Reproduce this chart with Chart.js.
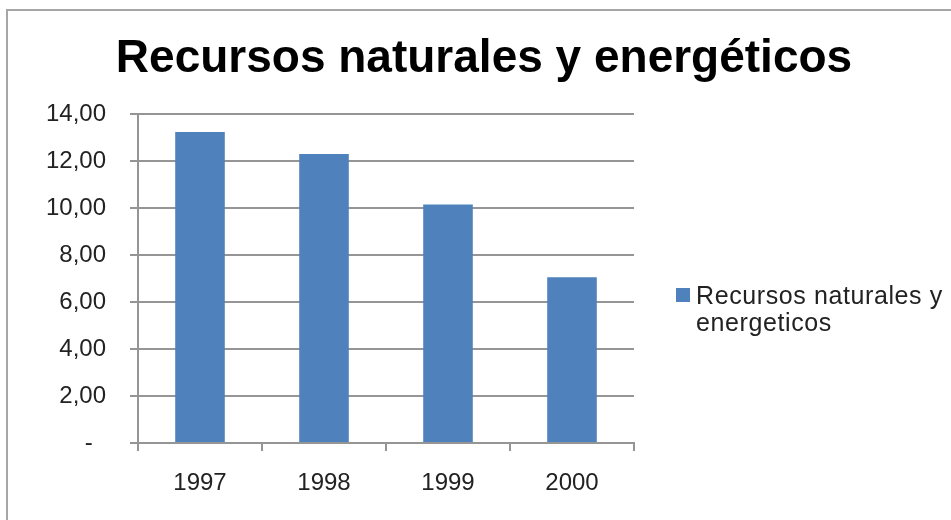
<!DOCTYPE html>
<html>
<head>
<meta charset="utf-8">
<title>Recursos naturales y energéticos</title>
<script src="https://cdn.jsdelivr.net/npm/chart.js@4"></script>
<style>
  html, body { margin: 0; padding: 0; background: #fff; }
  #wrap { width: 951px; height: 520px; position: relative; }
</style>
</head>
<body>
<div id="wrap"><canvas id="barChart" width="951" height="520"></canvas></div>
<script>
// Datos
var years = ['1997', '1998', '1999', '2000'];
var values = [13.23, 12.30, 10.15, 7.05];
var yTicks = [0, 2, 4, 6, 8, 10, 12, 14];
var chartTitle = 'Recursos naturales y energéticos';
var seriesName = 'Recursos naturales y energeticos';
var legendLines = ['Recursos naturales y', 'energeticos'];

var FONT = '"Liberation Sans", Arial, sans-serif';
var lineGray = '#959595';

// marco, título y leyenda dibujados a mano
var decorPlugin = {
	id: 'decor',
	beforeDraw: function (chart) {
		var ctx = chart.ctx;
		ctx.save();
		ctx.fillStyle = '#fff';
		ctx.fillRect(0, 0, chart.width, chart.height);
		ctx.strokeStyle = '#a6a6a6';
		ctx.lineWidth = 2;
		ctx.beginPath();
		ctx.moveTo(7, chart.height);
		ctx.lineTo(7, 10);
		ctx.lineTo(chart.width, 10);
		ctx.stroke();
		ctx.restore();
	},
	afterDraw: function (chart) {
		var ctx = chart.ctx;
		ctx.save();
		ctx.fillStyle = '#000';
		ctx.font = 'bold 46px ' + FONT;
		ctx.textAlign = 'center';
		ctx.textBaseline = 'alphabetic';
		ctx.fillText(chartTitle, 484, 72);

		var ds = chart.data.datasets[0];
		ctx.fillStyle = ds.backgroundColor;
		ctx.fillRect(676, 288, 14, 14);
		ctx.fillStyle = '#222';
		ctx.font = '25px ' + FONT;
		ctx.textAlign = 'left';
		if ('letterSpacing' in ctx) ctx.letterSpacing = '0.6px';
		legendLines.forEach(function (line, i) {
			ctx.fillText(line, 696, 304 + i * 27);
		});
		ctx.restore();
	}
};

var ctxBar = document.getElementById('barChart').getContext('2d');
var barChart = new Chart(ctxBar, {
	type: 'bar',
	data: {
		labels: years,
		datasets: [{
			label: seriesName,
			data: values,
			backgroundColor: '#4f81bd',
			borderWidth: 0,
			barPercentage: 0.4,
			categoryPercentage: 1.0
		}]
	},
	plugins: [decorPlugin],
	options: {
		responsive: false,
		animation: false,
		layout: {
			padding: { left: 0, right: 317, top: 114, bottom: 17 }
		},
		plugins: {
			legend: { display: false },
			title: { display: false },
			tooltip: { enabled: false }
		},
		scales: {
			x: {
				offset: true,
				grid: {
					offset: true,
					drawOnChartArea: false,
					drawTicks: true,
					tickLength: 8,
					color: lineGray,
					lineWidth: 2
				},
				border: { display: true, color: lineGray, width: 2 },
				ticks: {
					color: '#222',
					font: { family: FONT, size: 24 },
					padding: 18
				},
				afterFit: function (scale) { scale.height = 60; }
			},
			y: {
				min: 0,
				max: 14,
				afterBuildTicks: function (scale) {
					scale.ticks = yTicks.map(function (v) { return { value: v }; });
				},
				grid: {
					color: lineGray,
					lineWidth: 2,
					tickLength: 8
				},
				border: { display: true, color: lineGray, width: 2 },
				ticks: {
					color: '#222',
					font: { family: FONT, size: 24 },
					padding: 24,
					callback: function (v) {
						return v === 0 ? '-  ' : v.toFixed(2).replace('.', ',');
					}
				},
				afterFit: function (scale) { scale.width = 138; }
			}
		}
	}
});
</script>
</body>
</html>
